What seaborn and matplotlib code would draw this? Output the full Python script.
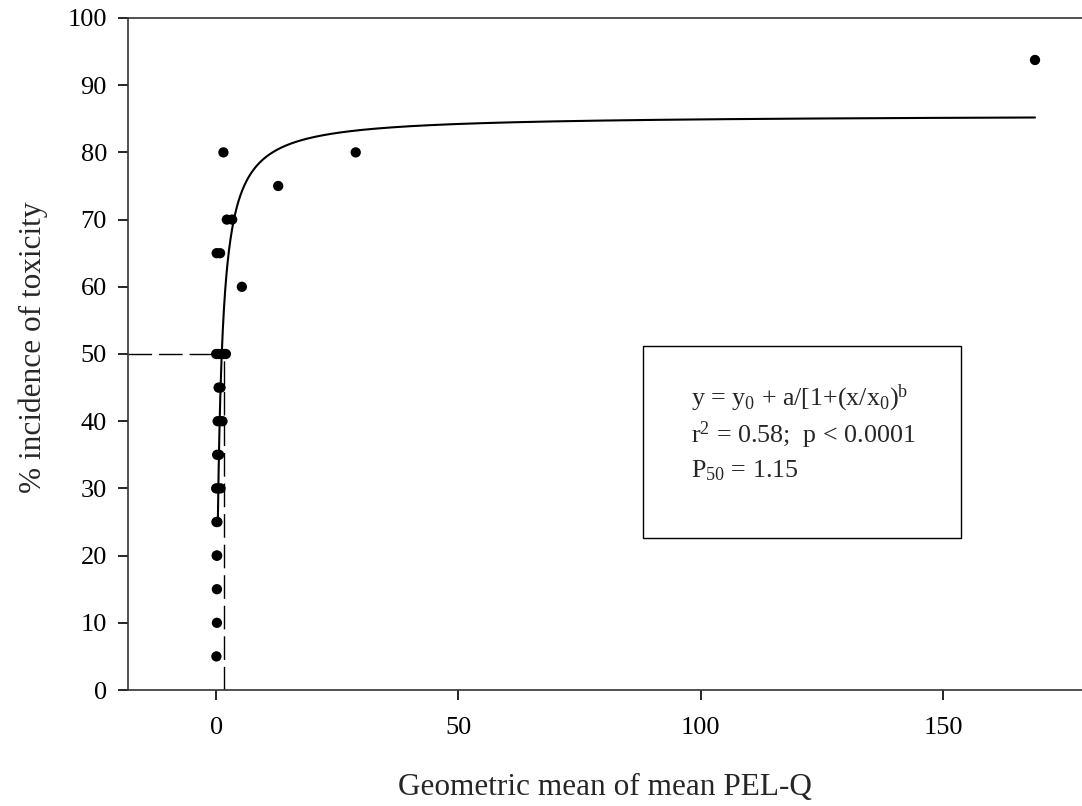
import numpy as np
import pandas as pd
import seaborn as sns
import matplotlib.pyplot as plt
from matplotlib.patches import Rectangle

# data
pelq = [0.05, 0.15, 0.15, 0.1, 0.2, 0.05, 0.25, 0.0, 0.4, 0.9, 0.2, 0.6,
        0.3, 0.8, 1.3, 0.5, 0.9, 0.0, 0.5, 1.0, 1.6, 2.0, 5.3, 0.1, 0.8,
        2.2, 3.3, 12.8, 1.5, 28.8, 169.0]
toxicity = [5, 10, 15, 20, 20, 25, 25, 30, 30, 30, 35, 35,
            40, 40, 40, 45, 45, 50, 50, 50, 50, 50, 60, 65, 65,
            70, 70, 75, 80, 80, 93.75]

# fitted model y = y0 + a/[1+(x/x0)^b]
y0, a, x0, b = 85.6, -86.0, 0.81, 1.0
fit_range = (0.34, 169.0)
p50_x, p50_y = 1.6, 50

x_ticks = [0, 50, 100, 150]
y_ticks = list(range(0, 101, 10))

df = pd.DataFrame({"pelq": pelq, "tox": toxicity})
xf = np.linspace(fit_range[0], fit_range[1], 2000)
fit = pd.DataFrame({"x": xf, "y": y0 + a / (1 + (xf / x0) ** b)})

sns.set_style("ticks")
plt.rcParams["font.family"] = ["Liberation Serif", "DejaVu Serif"]
plt.rcParams["mathtext.fontset"] = "custom"
plt.rcParams["mathtext.rm"] = "Liberation Serif"
plt.rcParams["mathtext.default"] = "regular"

fig = plt.figure(figsize=(10.82, 8.06), dpi=100)
ax = fig.add_axes([0.1183, 0.1439, 0.8817, 0.8338])

sns.lineplot(data=fit, x="x", y="y", color="black", linewidth=1.5, ax=ax)
sns.scatterplot(data=df, x="pelq", y="tox", color="black", s=55,
                edgecolor="none", ax=ax, zorder=3)

# P50 guide lines
ax.plot([-18.2, p50_x], [p50_y, p50_y], color="black", lw=1, dashes=(17, 5))
ax.plot([p50_x, p50_x], [0, p50_y], color="black", lw=1, dashes=(17, 5))

# text box
ax.add_patch(Rectangle((88.1, 22.6), 65.6, 28.6, fill=False,
                       edgecolor="black", lw=1))
ax.text(98, 42.3, r"y = y$_0$ + a/[1+(x/x$_0$)$^b$", fontsize=18.7)
ax.text(98, 36.7, r"r$^2$ = 0.58;  p < 0.0001", fontsize=18.7)
ax.text(98, 31.7, r"P$_{50}$ = 1.15", fontsize=18.7)

ax.set_xlim(-18.2, 178.7)
ax.set_ylim(0, 100)
ax.set_xticks(x_ticks)
ax.set_yticks(y_ticks)
ax.tick_params(direction="out", length=7.2, width=1.2, labelsize=19,
               colors="black", pad=8)
ax.tick_params(axis="x", pad=12)
for side in ["left", "bottom", "top"]:
    ax.spines[side].set_linewidth(1.2)
    ax.spines[side].set_color("#333333")
ax.spines["right"].set_visible(False)

ax.set_xlabel("Geometric mean of mean PEL-Q", fontsize=22.5, labelpad=25)
ax.set_ylabel("% incidence of toxicity", fontsize=22.5)
ax.yaxis.set_label_coords(-0.084, 0.51)

fig.savefig("out.png", dpi=100)
